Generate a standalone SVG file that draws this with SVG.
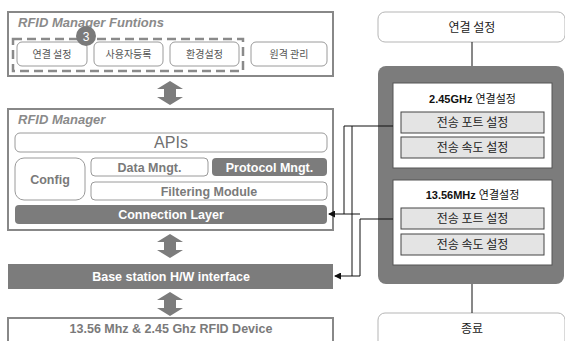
<svg xmlns="http://www.w3.org/2000/svg" width="565" height="341" viewBox="0 0 565 341">
  <style>
    .frame { fill: #ffffff; stroke: #888888; stroke-width: 2; }
    .sub { fill: #ffffff; stroke: #9a9a9a; stroke-width: 1; }
    .dark { fill: #7c7c7c; stroke: none; }
    .title { font-family: "Liberation Sans", Arial, sans-serif; font-size: 13px; font-weight: bold; font-style: italic; fill: #8a8a8a; }
    .ko { font-family: "Noto Sans CJK KR", "Noto Sans", sans-serif; font-size: 10px; fill: #555555; text-anchor: middle; }
    .lbl { font-family: "Liberation Sans", Arial, sans-serif; font-size: 12.5px; font-weight: bold; fill: #7a7a7a; text-anchor: middle; }
    .wlbl { font-family: "Liberation Sans", Arial, sans-serif; font-size: 12.5px; font-weight: bold; fill: #ffffff; text-anchor: middle; }
    .dbl { fill: #7c7c7c; }
    .step { fill: #ffffff; stroke: #b5b5b5; stroke-width: 1; }
    .panel { fill: #ffffff; stroke: #555555; stroke-width: 1; }
    .item { fill: #e4e4e4; stroke: #444444; stroke-width: 1; }
    .rko { font-family: "Noto Sans CJK KR", "Noto Sans", sans-serif; font-size: 12px; fill: #222222; text-anchor: middle; }
    .rhead { font-family: "Liberation Sans", Arial, "Noto Sans CJK KR", sans-serif; font-size: 11px; fill: #111111; text-anchor: middle; }
    .wire { fill: none; stroke: #111111; stroke-width: 1; }
  </style>
  <defs>
    <marker id="tip" markerWidth="7" markerHeight="7" refX="6" refY="3.5" orient="auto" markerUnits="userSpaceOnUse">
      <path d="M0,0 L7,3.5 L0,7 Z" fill="#111111"/>
    </marker>
  </defs>

  <rect width="565" height="341" fill="#ffffff"/>

  <!-- RFID Manager functions -->
  <g id="functions">
    <rect class="frame" x="8" y="12" width="325" height="64"/>
    <text class="title" x="18" y="27">RFID Manager Funtions</text>
    <rect x="13" y="39" width="230" height="32" fill="none" stroke="#8a8a8a" stroke-width="2.5" stroke-dasharray="9,5"/>
    <rect class="sub" x="17" y="42" width="70" height="24" rx="5"/>
    <text class="ko" x="52" y="58">연결 설정</text>
    <rect class="sub" x="94" y="42" width="69" height="24" rx="5"/>
    <text class="ko" x="128.5" y="58">사용자등록</text>
    <rect class="sub" x="170" y="42" width="69" height="24" rx="5"/>
    <text class="ko" x="204.5" y="58">환경설정</text>
    <rect class="sub" x="251" y="42" width="76" height="24" rx="5"/>
    <text class="ko" x="289" y="58">원격 관리</text>
    <circle cx="86" cy="36" r="10" fill="#7a7a7a"/>
    <text x="86" y="40.5" font-family="Liberation Sans, Arial, sans-serif" font-size="12" fill="#ffffff" text-anchor="middle">3</text>
  </g>

  <!-- RFID Manager -->
  <g id="manager">
    <rect class="frame" x="8" y="109" width="325" height="121"/>
    <text class="title" x="18" y="124">RFID Manager</text>
    <rect class="sub" x="15" y="133" width="312" height="19" rx="5"/>
    <text x="171" y="148" font-family="Liberation Sans, Arial, sans-serif" font-size="16" fill="#707070" text-anchor="middle">APIs</text>
    <rect class="sub" x="15" y="158" width="70" height="42" rx="9"/>
    <text class="lbl" x="50" y="184">Config</text>
    <rect class="sub" x="91" y="158" width="117" height="18" rx="4"/>
    <text class="lbl" x="149.5" y="171.5">Data Mngt.</text>
    <rect class="dark" x="212" y="158" width="115" height="18" rx="4"/>
    <text class="wlbl" x="269.5" y="171.5">Protocol Mngt.</text>
    <rect class="sub" x="91" y="182" width="236" height="18" rx="4"/>
    <text class="lbl" x="209" y="195.5">Filtering Module</text>
    <rect class="dark" x="15" y="205" width="312" height="19" rx="4"/>
    <text class="wlbl" x="171" y="219">Connection Layer</text>
  </g>

  <!-- Base station interface -->
  <g id="base-station">
    <rect class="dark" x="8" y="264" width="325" height="25"/>
    <text class="wlbl" x="171" y="281" font-size="13">Base station H/W interface</text>
  </g>

  <!-- RFID device -->
  <g id="device">
    <rect class="frame" x="8" y="318" width="325" height="30"/>
    <text class="lbl" x="171" y="333" fill="#6a6a6a">13.56 Mhz &amp; 2.45 Ghz RFID Device</text>
  </g>

  <!-- Right column: connection setup flow -->
  <g id="step-connect">
    <rect class="step" x="378" y="12" width="187" height="30" rx="7"/>
    <text class="rko" x="472" y="32">연결 설정</text>
  </g>

  <g id="setup-panel">
    <rect class="dark" x="378" y="66" width="186" height="218" rx="8"/>
  </g>

  <g id="setup-245">
    <rect class="panel" x="393" y="83" width="159" height="85"/>
    <text class="rhead" x="472.5" y="103"><tspan font-weight="bold">2.45GHz</tspan> 연결설정</text>
    <rect class="item" x="401" y="112" width="143" height="21"/>
    <text class="rko" x="472.5" y="127">전송 포트 설정</text>
    <rect class="item" x="401" y="137" width="143" height="21"/>
    <text class="rko" x="472.5" y="152">전송 속도 설정</text>
  </g>

  <g id="setup-1356">
    <rect class="panel" x="393" y="180" width="159" height="85"/>
    <text class="rhead" x="472.5" y="199"><tspan font-weight="bold">13.56MHz</tspan> 연결설정</text>
    <rect class="item" x="401" y="208" width="143" height="21"/>
    <text class="rko" x="472.5" y="223">전송 포트 설정</text>
    <rect class="item" x="401" y="234" width="143" height="21"/>
    <text class="rko" x="472.5" y="249">전송 속도 설정</text>
  </g>

  <g id="step-end">
    <rect class="step" x="378" y="313" width="187" height="36" rx="7"/>
    <text class="rko" x="472" y="333">종료</text>
  </g>

  <!-- Connectors -->
  <g id="connectors">
    <path class="dbl" d="M170,81 L183,89 L176,89 L176,97 L183,97 L170,105 L157,97 L164,97 L164,89 L157,89 Z"/>
    <path class="dbl" d="M170,234 L183,242 L176,242 L176,250 L183,250 L170,258 L157,250 L164,250 L164,242 L157,242 Z"/>
    <path class="dbl" d="M170,292 L183,300 L176,300 L176,308 L183,308 L170,316 L157,308 L164,308 L164,300 L157,300 Z"/>

    <line class="wire" x1="472" y1="42" x2="472" y2="66"/>
    <line class="wire" x1="472" y1="284" x2="472" y2="313"/>

    <path class="wire" d="M393,126 H344 V214 H329" marker-end="url(#tip)"/>
    <path class="wire" d="M352,126 V276 H335" marker-end="url(#tip)"/>
    <path class="wire" d="M393,219 H360 V276 H352"/>
    <path class="wire" d="M344,214 H360"/>
  </g>
</svg>
